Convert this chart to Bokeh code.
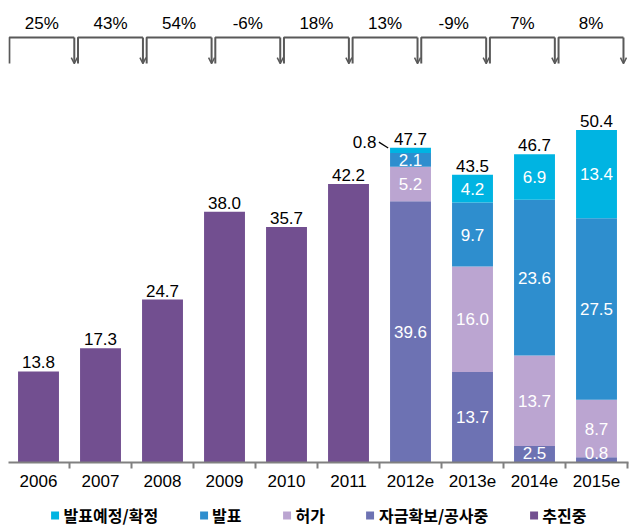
from bokeh.plotting import figure
from bokeh.layouts import column
from bokeh.models import (ColumnDataSource, FixedTicker, Legend, LegendItem, Arrow,
                          OpenHead, Range1d)
from bokeh.core.properties import value
from bokeh.embed import file_html
from bokeh.resources import INLINE

# ---- data ----
years = ["2006", "2007", "2008", "2009", "2010", "2011", "2012e", "2013e", "2014e", "2015e"]
promoting = [13.8, 17.3, 24.7, 38.0, 35.7, 42.2, 0, 0, 0, 0]        # 추진중
financed = [0, 0, 0, 0, 0, 0, 39.6, 13.7, 2.5, 0.8]                 # 자금확보/공사중
permitted = [0, 0, 0, 0, 0, 0, 5.2, 16.0, 13.7, 8.7]                # 허가
announced = [0, 0, 0, 0, 0, 0, 2.1, 9.7, 23.6, 27.5]                # 발표
planned = [0, 0, 0, 0, 0, 0, 0.8, 4.2, 6.9, 13.4]                   # 발표예정/확정
totals = [13.8, 17.3, 24.7, 38.0, 35.7, 42.2, 47.7, 43.5, 46.7, 50.4]
growth = ["25%", "43%", "54%", "-6%", "18%", "13%", "-9%", "7%", "8%"]

series_keys = ["promoting", "financed", "permitted", "announced", "planned"]
series_names = ["추진중", "자금확보/공사중", "허가", "발표", "발표예정/확정"]
series_vals = [promoting, financed, permitted, announced, planned]
colors = ["#724F90", "#6D72B3", "#BBA5D1", "#2E8ECE", "#00B4E2"]

NUM_FONT = value("Liberation Sans")
FS = "17px"
BAR_W = 0.66
GRAY = "#595959"

xs = list(range(len(years)))
data = {"x": xs}
for k, v in zip(series_keys, series_vals):
    data[k] = v
src = ColumnDataSource(data)

p = figure(frame_width=620, frame_height=454, x_range=Range1d(-0.484, 9.516), y_range=Range1d(0, 68.8),
           output_backend="svg", toolbar_location=None, y_axis_location=None,
           min_border_left=8, min_border_right=2, min_border_top=8, min_border_bottom=36)
p.outline_line_color = None
p.grid.visible = False
p.background_fill_color = "white"

rends = p.vbar_stack(series_keys, x="x", width=BAR_W, color=colors, line_color=None, source=src)

# ---- segment labels ----
lx, ly, lt = [], [], []
side_x, side_y, side_t, lead_x0, lead_y0, lead_x1, lead_y1 = [], [], [], [], [], [], []
for i in xs:
    if promoting[i] > 0:
        continue
    cum = 0.0
    for j, vals in enumerate(series_vals[1:]):
        v = vals[i]
        if v <= 0:
            continue
        if j > 0 and v < 1.5:
            top = cum + v
            left = i - BAR_W / 2
            side_x.append(left - 0.22)
            side_y.append(top + 0.9)
            side_t.append(f"{v:.1f}")
            lead_x0.append(left - 0.18)
            lead_y0.append(top + 0.85)
            lead_x1.append(left - 0.03)
            lead_y1.append(top - 0.05)
        else:
            lx.append(i)
            ly.append(max(cum + v / 2, 1.5))
            lt.append(f"{v:.1f}")
        cum += v

p.text(x=lx, y=ly, text=lt, text_color="white", text_font=NUM_FONT, text_font_size=FS,
       text_align="center", text_baseline="middle")
p.text(x=side_x, y=side_y, text=side_t, text_color="black", text_font=NUM_FONT,
       text_font_size=FS, text_align="right", text_baseline="middle")
p.segment(x0=lead_x0, y0=lead_y0, x1=lead_x1, y1=lead_y1, line_color="black", line_width=1.2)

# ---- totals ----
p.text(x=xs, y=totals, text=[f"{t:.1f}" for t in totals], text_color="black", text_font=NUM_FONT,
       text_font_size=FS, text_align="center", text_baseline="bottom", y_offset=-3)

# ---- growth brackets ----
n = len(growth)
left0, right_end, gap = -0.47, 9.435, 0.06
pitch = (right_end - left0 + gap) / n
b_top, b_bot = 64.4, 60.45
bl = [left0 + k * pitch for k in range(n)]
br = [l + pitch - gap for l in bl]
p.multi_line(xs=[[l, l, r] for l, r in zip(bl, br)], ys=[[b_bot, b_top, b_top]] * n,
             line_color=GRAY, line_width=2)
asrc = ColumnDataSource(dict(x=br, y0=[b_top] * n, y1=[b_bot] * n))
p.add_layout(Arrow(x_start="x", y_start="y0", x_end="x", y_end="y1", source=asrc,
                   line_color=GRAY, line_width=2,
                   end=OpenHead(size=6, line_color=GRAY, line_width=1.5)))
p.text(x=[(l + r) / 2 for l, r in zip(bl, br)], y=[66.6] * n, text=growth, text_color="black",
       text_font=NUM_FONT, text_font_size=FS, text_align="center", text_baseline="middle")

# ---- x axis ----
ax = p.xaxis[0]
ax.ticker = FixedTicker(ticks=xs, minor_ticks=[i - 0.5 for i in range(len(years) + 1)])
ax.major_label_overrides = {i: y for i, y in enumerate(years)}
ax.major_tick_line_color = None
ax.major_tick_out = 0
ax.major_tick_in = 0
ax.minor_tick_line_color = "#808080"
ax.minor_tick_line_width = 2
ax.minor_tick_out = 6
ax.minor_tick_in = 0
ax.axis_line_color = "#808080"
ax.axis_line_width = 2
ax.major_label_text_font = "Liberation Sans"
ax.major_label_text_font_size = FS
ax.major_label_text_color = "black"
ax.major_label_standoff = 6

# ---- legend in a strip under the chart ----
lf = figure(width=630, height=34, output_backend="svg", toolbar_location=None,
            x_axis_location=None, y_axis_location=None, min_border=0,
            x_range=Range1d(0, 1), y_range=Range1d(0, 1))
lf.outline_line_color = None
lf.grid.visible = False
# proxy glyphs placed far outside the visible range, used only for the legend swatches
leg_rends = [lf.vbar(x=[0.5], bottom=[-20], top=[-19], width=0.01, color=c, line_color=None)
             for c in colors]
items = [LegendItem(label=series_names[k], renderers=[leg_rends[k]]) for k in [4, 3, 2, 1, 0]]
legend = Legend(items=items, orientation="horizontal", location="center",
                border_line_color=None, background_fill_alpha=0,
                glyph_width=10, glyph_height=10, label_standoff=4, spacing=40,
                label_text_font="Noto Sans CJK KR", label_text_font_size="16px",
                label_text_font_style="bold", label_text_color="black",
                label_height=16, padding=0, margin=0)
lf.add_layout(legend, "center")

page = column(p, lf, spacing=0)
open("out.html", "w").write(file_html(page, INLINE))
